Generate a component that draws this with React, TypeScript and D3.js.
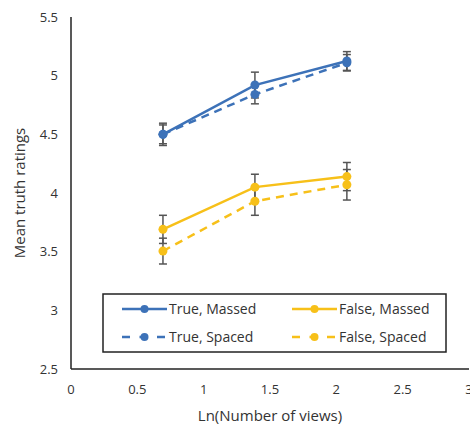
import React from "react";
import * as d3 from "d3";

const views = [2, 4, 8];
const trueMassed = [4.5, 4.92, 5.125];
const trueMassedErr = [0.095, 0.11, 0.08];
const trueSpaced = [4.5, 4.84, 5.11];
const trueSpacedErr = [0.08, 0.08, 0.07];
const falseMassed = [3.69, 4.05, 4.14];
const falseMassedErr = [0.12, 0.11, 0.12];
const falseSpaced = [3.505, 3.93, 4.07];
const falseSpacedErr = [0.11, 0.12, 0.13];

const xTicks = [0, 0.5, 1, 1.5, 2, 2.5, 3];
const yTicks = [2.5, 3, 3.5, 4, 4.5, 5, 5.5];

const BLUE = "#3d72b8";
const GOLD = "#f7c019";
const ERR = "#555";
const FONT = "'Open Sans', 'Noto Sans', sans-serif";

const series = [
  { name: "True, Massed", values: trueMassed, err: trueMassedErr, color: BLUE, dashed: false },
  { name: "True, Spaced", values: trueSpaced, err: trueSpacedErr, color: BLUE, dashed: true },
  { name: "False, Massed", values: falseMassed, err: falseMassedErr, color: GOLD, dashed: false },
  { name: "False, Spaced", values: falseSpaced, err: falseSpacedErr, color: GOLD, dashed: true },
];

export default function App() {
  const x = d3.scaleLinear().domain([0, 3]).range([71, 469]);
  const y = d3.scaleLinear().domain([2.5, 5.5]).range([369, 17]);
  const line = d3
    .line<number>()
    .x((_, i) => x(Math.log(views[i])))
    .y((d) => y(d));

  const legend = [
    { s: series[0], lx: 122, ty: 309 },
    { s: series[1], lx: 122, ty: 337 },
    { s: series[2], lx: 292, ty: 309 },
    { s: series[3], lx: 292, ty: 337 },
  ];

  return (
    <svg
      width={470}
      height={424}
      style={{ position: "absolute", left: 0, top: 0, background: "#fff" }}
      fontFamily={FONT}
    >
      {/* axes */}
      <line x1={x(0)} x2={x(0)} y1={y(5.5)} y2={y(2.5)} stroke="#222" strokeWidth={1.5} />
      <line x1={x(0)} x2={x(3)} y1={y(2.5)} y2={y(2.5)} stroke="#222" strokeWidth={1.5} />
      {yTicks.map((t) => (
        <text key={t} x={58} y={y(t)} dy="0.35em" textAnchor="end" fontSize={13} fill="#333">
          {t}
        </text>
      ))}
      {xTicks.map((t) => (
        <text key={t} x={x(t)} y={389} dy="0.35em" textAnchor="middle" fontSize={13} fill="#333">
          {t}
        </text>
      ))}
      <text x={270} y={416} dy="0.35em" textAnchor="middle" fontSize={15} fill="#333">
        Ln(Number of views)
      </text>
      <text
        transform={`translate(20,${y(4)}) rotate(-90)`}
        dy="0.35em"
        textAnchor="middle"
        fontSize={15}
        fill="#333"
      >
        Mean truth ratings
      </text>

      {/* error bars */}
      {series.map((s) =>
        s.values.map((v, i) => {
          const cx = x(Math.log(views[i]));
          return (
            <g key={s.name + i} stroke={ERR} strokeWidth={1.5}>
              <line x1={cx} x2={cx} y1={y(v - s.err[i])} y2={y(v + s.err[i])} />
              <line x1={cx - 4} x2={cx + 4} y1={y(v - s.err[i])} y2={y(v - s.err[i])} />
              <line x1={cx - 4} x2={cx + 4} y1={y(v + s.err[i])} y2={y(v + s.err[i])} />
            </g>
          );
        })
      )}

      {/* series lines and markers */}
      {series.map((s) => (
        <g key={s.name}>
          <path
            d={line(s.values) ?? ""}
            fill="none"
            stroke={s.color}
            strokeWidth={2.5}
            strokeDasharray={s.dashed ? "8,6" : undefined}
          />
          {s.values.map((v, i) => (
            <circle key={i} cx={x(Math.log(views[i]))} cy={y(v)} r={4.5} fill={s.color} />
          ))}
        </g>
      ))}

      {/* legend */}
      <rect x={103} y={294} width={343} height={58} fill="#fff" stroke="#222" strokeWidth={1.5} />
      {legend.map(({ s, lx, ty }) => (
        <g key={s.name}>
          <line
            x1={lx}
            x2={lx + 45}
            y1={ty}
            y2={ty}
            stroke={s.color}
            strokeWidth={2.5}
            strokeDasharray={s.dashed ? "8,9.5" : undefined}
          />
          <circle cx={lx + 22.5} cy={ty} r={4} fill={s.color} />
          <text x={lx + 47} y={ty} dy="0.35em" fontSize={14} fill="#333">
            {s.name}
          </text>
        </g>
      ))}
    </svg>
  );
}
